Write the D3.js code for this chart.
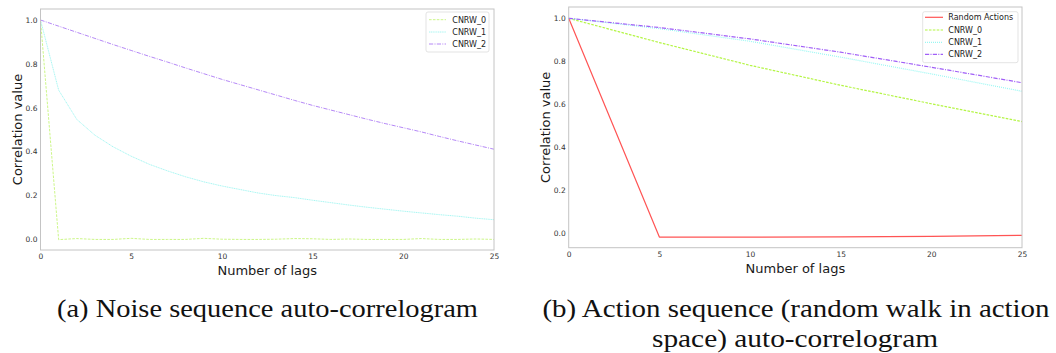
<!DOCTYPE html>
<html>
<head>
<meta charset="utf-8">
<script src="https://cdn.jsdelivr.net/npm/d3@7"></script>
<style>
  body { margin: 0; background: #fff; }
  svg { display: block; }
</style>
</head>
<body>
<svg id="fig" width="1056" height="353"></svg>
<script>
// ---- data: noise sequence auto-correlation, lags 0..25 ----
const noiseLags = [0, 1, 2, 3, 4, 5, 6, 7, 8, 9, 10, 11, 12, 13, 14, 15, 16, 17, 18, 19, 20, 21, 22, 23, 24, 25];
const noiseCNRW0 = [1.0, -0.003, 0.002, -0.002, -0.002, 0.003, -0.002, -0.002, -0.002, 0.003, -0.001, -0.002, -0.002,
                    -0.001, 0.002, 0.001, -0.002, 0.000, -0.002, -0.002, -0.002, 0.002, -0.002, -0.002, 0.000, -0.002];
const noiseCNRW1 = [1.0, 0.680, 0.546, 0.474, 0.421, 0.378, 0.341, 0.311, 0.284, 0.261, 0.242, 0.226, 0.210,
                    0.198, 0.189, 0.177, 0.166, 0.155, 0.145, 0.136, 0.127, 0.119, 0.111, 0.104, 0.095, 0.088];
const noiseCNRW2 = [1.0, 0.972, 0.944, 0.916, 0.888, 0.861, 0.834, 0.808, 0.781, 0.755, 0.729, 0.705, 0.681,
                    0.657, 0.633, 0.610, 0.589, 0.568, 0.547, 0.527, 0.508, 0.489, 0.468, 0.448, 0.429, 0.410];

// ---- data: action sequence auto-correlation, every 5 lags ----
const actionLags = [0, 5, 10, 15, 20, 25];
const actionRandom = [1.0, -0.019, -0.019, -0.018, -0.016, -0.011];
const actionCNRW0 = [1.0, 0.887, 0.781, 0.688, 0.602, 0.519];
const actionCNRW1 = [1.0, 0.952, 0.893, 0.819, 0.741, 0.660];
const actionCNRW2 = [1.0, 0.957, 0.904, 0.842, 0.772, 0.700];

// ---- ticks and text ----
const xTickValues = [0, 5, 10, 15, 20, 25];
const yTickValues = [0.0, 0.2, 0.4, 0.6, 0.8, 1.0];
const xAxisTitle = "Number of lags";
const yAxisTitle = "Correlation value";
const captionA = ["(a) Noise sequence auto-correlogram"];
const captionB = ["(b) Action sequence (random walk in action", "space) auto-correlogram"];

const SANS = "'DejaVu Sans', Verdana, sans-serif";
const SERIF = "'Liberation Serif', 'Times New Roman', serif";

const svg = d3.select("#fig");

const panels = [
  {
    box: { left: 40.5, right: 494, top: 9, bottom: 250 },
    yDomain: [-0.0503, 1.0503],
    lineScale: 0.9,
    series: [
      { name: "CNRW_0", x: noiseLags, y: noiseCNRW0, color: "#c6f57a", dash: "2.6,1.3" },
      { name: "CNRW_1", x: noiseLags, y: noiseCNRW1, color: "#9ef5f0", dash: "1.2,0.6" },
      { name: "CNRW_2", x: noiseLags, y: noiseCNRW2, color: "#ad7bf5", dash: "4.2,1.3,1,1.3" }
    ],
    legend: { left: 426, right: 489, top: 12, bottom: 52, rows: [19.7, 32, 44], handle: [429, 446], text: 452.3 },
    xTitleY: 275, yTitleX: 22,
    caption: captionA, captionLines: [{ cx: 267.5, y: 317, w: 421 }]
  },
  {
    box: { left: 568.7, right: 1022, top: 7, bottom: 247.7 },
    yDomain: [-0.0685, 1.0526],
    lineScale: 1.2,
    series: [
      { name: "Random Actions", x: actionLags, y: actionRandom, color: "#ff5454", dash: null },
      { name: "CNRW_0", x: actionLags, y: actionCNRW0, color: "#b4f545", dash: "2.6,1.3" },
      { name: "CNRW_1", x: actionLags, y: actionCNRW1, color: "#8ff7f2", dash: "0.9,1.1" },
      { name: "CNRW_2", x: actionLags, y: actionCNRW2, color: "#a15ff7", dash: "4.2,1.3,1,1.3" }
    ],
    legend: { left: 922.7, right: 1018, top: 11.7, bottom: 62.7, rows: [17.3, 30, 42.3, 54.3], handle: [925, 943], text: 948.3 },
    xTitleY: 273, yTitleX: 550,
    caption: captionB, captionLines: [{ cx: 796, y: 317, w: 507 }, { cx: 795, y: 347, w: 286 }]
  }
];

panels.forEach(p => {
  const b = p.box;
  const x = d3.scaleLinear().domain([0, 25]).range([b.left, b.right]);
  const y = d3.scaleLinear().domain(p.yDomain).range([b.bottom, b.top]);
  const g = svg.append("g");

  // series lines
  const line = d3.line().x(d => x(d[0])).y(d => y(d[1]));
  p.series.forEach(s => {
    const pts = s.x.map((v, i) => [v, s.y[i]]);
    g.append("path")
      .datum(pts)
      .attr("d", line)
      .attr("fill", "none")
      .attr("stroke", s.color)
      .attr("stroke-width", p.lineScale)
      .attr("stroke-dasharray", s.dash)
      .attr("stroke-linejoin", "round");
  });

  // frame
  g.append("rect")
    .attr("x", b.left).attr("y", b.top)
    .attr("width", b.right - b.left).attr("height", b.bottom - b.top)
    .attr("fill", "none").attr("stroke", "#c4c4c4").attr("stroke-width", 1);

  // axes
  const yAxis = d3.axisLeft(y).tickValues(yTickValues).tickSize(0).tickPadding(3)
    .tickFormat(d3.format(".1f"));
  const xAxis = d3.axisBottom(x).tickValues(xTickValues).tickSize(0).tickPadding(3.8)
    .tickFormat(d3.format("d"));

  const ya = g.append("g").attr("transform", `translate(${b.left},0)`).call(yAxis);
  const xa = g.append("g").attr("transform", `translate(0,${b.bottom})`).call(xAxis);
  [ya, xa].forEach(a => {
    a.select(".domain").remove();
    a.selectAll("text").attr("font-family", SANS).attr("font-size", 7.5).attr("fill", "#333");
  });

  // axis titles
  g.append("text")
    .attr("x", (b.left + b.right) / 2).attr("y", p.xTitleY)
    .attr("text-anchor", "middle")
    .attr("font-family", SANS).attr("font-size", 13).attr("fill", "#1a1a1a")
    .text(xAxisTitle);
  g.append("text")
    .attr("transform", `translate(${p.yTitleX},${(b.top + b.bottom) / 2}) rotate(-90)`)
    .attr("text-anchor", "middle")
    .attr("font-family", SANS).attr("font-size", 13).attr("fill", "#1a1a1a")
    .text(yAxisTitle);

  // legend
  const L = p.legend;
  g.append("rect")
    .attr("x", L.left).attr("y", L.top)
    .attr("width", L.right - L.left).attr("height", L.bottom - L.top)
    .attr("rx", 2).attr("fill", "#fff").attr("fill-opacity", 0.85)
    .attr("stroke", "#dcdcdc").attr("stroke-width", 0.8);
  p.series.forEach((s, i) => {
    const ry = L.rows[i];
    g.append("line")
      .attr("x1", L.handle[0]).attr("x2", L.handle[1])
      .attr("y1", ry).attr("y2", ry)
      .attr("stroke", s.color).attr("stroke-width", p.lineScale)
      .attr("stroke-dasharray", s.dash);
    g.append("text")
      .attr("x", L.text).attr("y", ry).attr("dy", "0.35em")
      .attr("font-family", SANS).attr("font-size", 8).attr("fill", "#222")
      .text(s.name);
  });

  // caption
  p.caption.forEach((txt, i) => {
    const c = p.captionLines[i];
    g.append("text")
      .attr("x", c.cx - c.w / 2).attr("y", c.y)
      .attr("textLength", c.w).attr("lengthAdjust", "spacingAndGlyphs")
      .attr("font-family", SERIF).attr("font-size", 26).attr("fill", "#111")
      .text(txt);
  });
});
</script>
</body>
</html>
